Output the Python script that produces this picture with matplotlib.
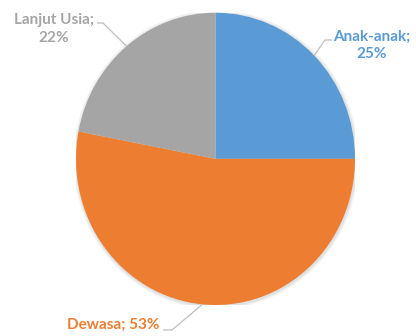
import numpy as np
import matplotlib.pyplot as plt
from matplotlib.patches import Ellipse

# data
labels = ["Anak-anak", "Dewasa", "Lanjut Usia"]
shares = [25, 53, 22]
colors = ["#5B9BD5", "#ED7D31", "#A5A5A5"]

# label placement in figure pixels (x, y from top) and leader elbows
text_pos = [(372, 45), (113, 325), (54, 29)]
elbow_pos = [((325, 40), (332, 40)), ((172, 330), (163, 330)), ((103, 23), (97, 23))]
label_text = ["Anak-anak;\n25%", "Dewasa; 53%", "Lanjut Usia;\n22%"]

W, H = 416, 336
fig = plt.figure(figsize=(W / 100, H / 100), dpi=100)

# pie axes sized to the pie box in the reference (slightly taller than wide)
left, right, top, bottom = 76, 355, 12.7, 305
ax = fig.add_axes([left / W, 1 - bottom / H, (right - left) / W, (bottom - top) / H])

# faint soft shadow behind the pie
for k in range(4):
    ax.add_patch(Ellipse((0.004, -0.006), 2 + 0.012 * (k + 1), 2 + 0.012 * (k + 1),
                         color="black", alpha=0.03, lw=0, zorder=0))

wedges, _ = ax.pie(shares, colors=colors, startangle=90, counterclock=False,
                   radius=1, wedgeprops=dict(linewidth=0))
ax.set_xlim(-1, 1)
ax.set_ylim(-1, 1)
ax.set_aspect("auto")
ax.axis("off")

# overlay axes in pixel coordinates for labels
ov = fig.add_axes([0, 0, 1, 1], facecolor="none")
ov.set_xlim(0, W)
ov.set_ylim(H, 0)
ov.axis("off")

font = ["Lato", "DejaVu Sans"]
for w, txt, tp, (elb, end), c in zip(wedges, label_text, text_pos, elbow_pos, colors):
    mid = np.deg2rad((w.theta1 + w.theta2) / 2)
    edge = (np.cos(mid), np.sin(mid))
    disp = ax.transData.transform(edge)
    ax_pt = ov.transData.inverted().transform(disp)
    ov.plot([ax_pt[0], elb[0], end[0]], [ax_pt[1], elb[1], end[1]],
            color="#BFBFBF", lw=0.9, solid_capstyle="butt")
    ov.text(tp[0], tp[1], txt, color=c, fontsize=11, fontweight="bold",
            family=font, ha="center", va="center", multialignment="center",
            linespacing=1.3)

fig.savefig("out.png", dpi=100)
